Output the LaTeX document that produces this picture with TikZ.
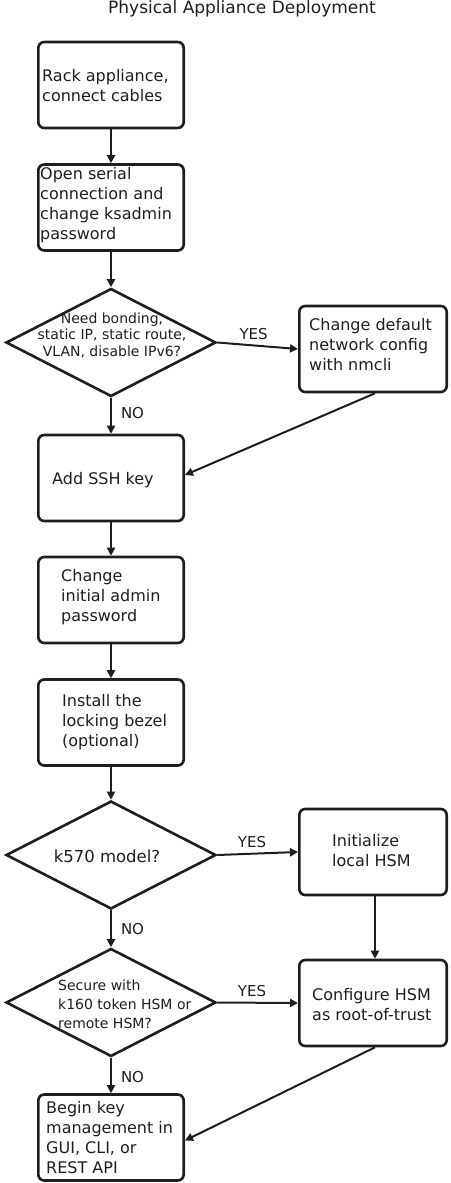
\documentclass[tikz,border=0pt]{standalone}
\usepackage{fontspec}
\setmainfont{DejaVu Sans}
\usetikzlibrary{shapes.geometric,arrows.meta}
\definecolor{ink}{HTML}{1E1E1E}
\tikzset{
  proc/.style={draw=ink, line width=2.6pt, rounded corners=6pt, inner sep=0pt,
               minimum width=145.4pt, minimum height=86pt},
  procR/.style={proc, minimum width=147.4pt},
  dec/.style={diamond, draw=ink, line width=2.6pt, inner sep=0pt,
              minimum width=210pt, minimum height=108pt},
  txt/.style={inner sep=0pt, align=left, anchor=west, text=ink,
              font=\fontsize{16}{20}\selectfont},
  dtxt/.style={inner sep=0pt, align=center, text=ink,
               font=\fontsize{14}{16.5}\selectfont},
  lbl/.style={inner sep=0pt, text=ink, font=\fontsize{15}{17}\selectfont},
  arr/.style={draw=ink, line width=2pt, -{Triangle[length=8pt,width=8pt]}},
}
\begin{document}
\begin{tikzpicture}[x=1pt,y=-1pt]
\useasboundingbox (0,0) rectangle (450,1183);
\node[lbl, anchor=base, font=\fontsize{17}{20}\selectfont] (title) at (242,13) {Physical Appliance Deployment};

% boxes
\node[proc] (b1) at (111,85) {};
\node[proc] (b2) at (111,207.5) {};
\node[dec]  (d1) at (111,342.5) {};
\node[procR] (b3) at (373,349) {};
\node[proc] (b4) at (111,478) {};
\node[proc] (b5) at (111,600) {};
\node[proc] (b6) at (111,722.5) {};
\node[dec]  (d2) at (111,855) {};
\node[procR] (b7) at (373,852) {};
\node[dec]  (d3) at (111,1002.5) {};
\node[procR] (b8) at (373,1003) {};
\node[proc] (b9) at (111,1137.5) {};

% texts
\node[txt] (t1) at (42,86) {Rack appliance,\\connect cables};
\node[txt] (t2) at (40,205.5) {Open serial\\connection and\\change ksadmin\\password};
\node[txt] (t3) at (309,345) {Change default\\network config\\with nmcli};
\node[txt] (t4) at (52,480.5) {Add SSH key};
\node[txt] (t5) at (61,597.5) {Change\\initial admin\\password};
\node[txt] (t6) at (62,722) {Install the\\locking bezel\\(optional)};
\node[txt] (t7) at (332,850.5) {Initialize\\local HSM};
\node[txt] (t8) at (312,1004.5) {Configure HSM\\as root-of-trust};
\node[txt] (t9) at (46,1138) {Begin key\\management in\\GUI, CLI, or\\REST API};
\node[dtxt] (dt1) at (112,335) {Need bonding,\\static IP, static route,\\VLAN, disable IPv6?};
\node[dtxt, font=\fontsize{16.5}{19}\selectfont] (dt2) at (107,856.5) {k570 model?};
\node[txt, font=\fontsize{14}{19}\selectfont] (dt3) at (58,1004) {Secure with\\k160 token HSM or\\remote HSM?};

% connectors
\draw[arr] (b1.south) -- (b2.north);
\draw[arr] (b2.south) -- (d1.north);
\draw[arr] (d1.east) -- node[lbl, pos=.45, above=5pt] (y1) {YES} (b3.west);
\draw[arr] (d1.south) -- node[lbl, pos=.42, right=9pt] (n1) {NO} (b4.north);
\draw[arr] ([xshift=2pt]b3.south) -- ([yshift=3pt]b4.east);
\draw[arr] (b4.south) -- (b5.north);
\draw[arr] (b5.south) -- (b6.north);
\draw[arr] (b6.south) -- (d2.north);
\draw[arr] (d2.east) -- node[lbl, pos=.43, above=5pt] (y2) {YES} (b7.west);
\draw[arr] (d2.south) -- node[lbl, pos=.5, right=9pt] (n2) {NO} (d3.north);
\draw[arr] ([xshift=2pt]b7.south) -- ([xshift=2pt]b8.north);
\draw[arr] (d3.east) -- node[lbl, pos=.43, above=5pt] (y3) {YES} (b8.west);
\draw[arr] (d3.south) -- node[lbl, pos=.55, right=9pt] (n3) {NO} (b9.north);
\draw[arr] ([xshift=2pt]b8.south) -- ([yshift=-3pt]b9.east);
\end{tikzpicture}
\end{document}
